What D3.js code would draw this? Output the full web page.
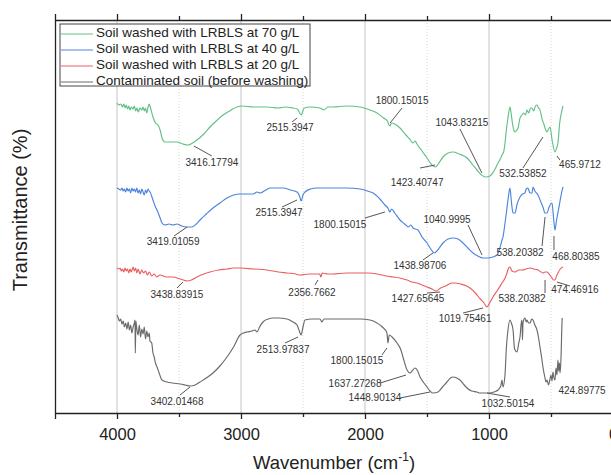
<!DOCTYPE html>
<html><head><meta charset="utf-8">
<script src="https://cdn.jsdelivr.net/npm/d3@7"></script>
<style>html,body{margin:0;padding:0;background:#fff;}svg{display:block;}</style>
</head><body><svg id="c" width="611" height="475"></svg>
<script>
// ---------- data (wavenumber cm-1, transmittance in arbitrary offset units) ----------
const seriesNames = ["Soil washed with LRBLS at 70 g/L","Soil washed with LRBLS at 40 g/L","Soil washed with LRBLS at 20 g/L","Contaminated soil (before washing)"];
const majorTicks = [4000,3000,2000,1000,0];
const minorTicks = [3500,2500,1500,500];

const spectrum70 = [[4000,310],[3985,308],[3970,309],[3955,306],[3945,309],[3935,305],[3925,308],[3915,304],[3905,307],[3895,303],[3885,306],[3870,304],[3860,307],[3850,302],[3840,305],[3828,301],[3815,305],[3800,303],[3790,306],[3780,302],[3770,305],[3760,300],[3750,306],[3740,309],[3734,307],
[3710,296],[3690,290],[3669,288],[3650,282],[3637,275],[3613,271],[3560,271],[3516,271],[3470,269],[3427,268],[3390,270],[3355,273],[3300,279],[3250,286],[3200,292],[3145,298],[3080,303],[3032,306],[2992,307],[2900,306],[2790,306],[2700,305],[2640,306],[2581,305],[2545,304],[2515,298],[2490,305],[2440,306],[2363,305],[2330,303],[2300,306],[2258,306],[2150,307],[2040,306],[1960,303],[1903,300],[1850,295],[1820,292],[1800,287],[1785,290],[1760,289],[1718,285],[1670,278],[1640,274],[1613,270],[1595,272],[1581,269],[1540,262],[1500,255],[1460,248],[1430,246],[1410,249],[1371,256],[1330,260],[1290,261],[1240,259],[1177,255],[1130,248],[1097,243],[1060,238],[1030,236],[992,237],[960,242],[927,250],[905,255],[895,258],[880,262],[871,270],[860,283],[845,297],[831,306],[822,300],[810,289],[800,283],[790,281],[775,283],[766,285],[750,295],[734,298],[720,300],[705,298],[694,303],[680,300],[665,305],[653,305],[640,302],[625,307],[613,308],[600,305],[589,303],[570,293],[555,288],[548,285],[532,281],[520,284],[508,286],[490,272],[468,261],[455,265],[444,270],[430,290],[411,303],[403,307]];

const spectrum40 = [[4000,225],[3985,224],[3970,223],[3960,225],[3950,222],[3940,224],[3930,221],[3920,225],[3910,222],[3900,224],[3890,220],[3880,225],[3870,222],[3860,224],[3850,221],[3840,225],[3830,220],[3820,223],[3810,219],[3800,224],[3790,221],[3780,218],[3770,223],[3760,220],[3750,224],[3740,222],[3734,221],
[3710,213],[3690,206],[3677,203],[3655,196],[3637,190],[3613,188],[3580,189],[3550,188],[3516,189],[3480,187],[3435,186],[3395,186],[3360,189],[3331,193],[3280,199],[3226,205],[3170,210],[3113,215],[3060,218],[3008,219],[2950,219],[2903,219],[2870,221],[2847,220],[2800,223],[2766,225],[2700,225],[2661,225],[2600,223],[2548,221],[2525,216],[2515,212],[2500,218],[2484,221],[2440,224],[2387,225],[2300,225],[2258,225],[2150,225],[2040,224],[1980,222],[1935,220],[1880,214],[1839,208],[1815,205],[1800,201],[1785,204],[1760,200],[1718,193],[1680,189],[1650,186],[1630,188],[1613,185],[1573,183],[1540,176],[1500,170],[1470,164],[1440,160],[1420,162],[1371,170],[1330,174],[1290,175],[1250,174],[1210,170],[1170,165],[1129,160],[1090,157],[1048,155],[1008,155],[970,156],[935,158],[910,166],[895,173],[887,176],[875,186],[860,200],[845,215],[831,225],[820,212],[806,200],[790,200],[775,208],[750,216],[730,219],[710,220],[700,224],[686,225],[670,220],[653,220],[645,226],[630,222],[605,218],[585,212],[565,206],[548,200],[532,200],[515,206],[492,210],[480,196],[468,183],[455,193],[440,203],[427,212],[415,220],[403,226]];

const spectrum20 = [[4000,145],[3985,144],[3975,145],[3965,142],[3955,144],[3945,141],[3935,145],[3925,142],[3915,144],[3905,140],[3895,144],[3885,141],[3870,146],[3860,142],[3850,145],[3840,140],[3830,144],[3815,139],[3800,143],[3785,140],[3770,142],[3755,138],[3740,141],[3720,137],[3700,139],[3680,136],[3653,138],[3600,136],[3548,136],[3490,134],[3435,132],[3400,133],[3355,136],[3300,139],[3250,141],[3180,143],[3113,144],[3060,145],[3008,145],[2900,144],[2790,143],[2700,141],[2629,140],[2560,139],[2524,138],[2450,139],[2387,139],[2365,139],[2356,136],[2345,140],[2300,139],[2258,139],[2150,140],[2040,140],[1984,140],[1900,139],[1830,137],[1774,136],[1720,135],[1661,133],[1620,131],[1581,130],[1540,128],[1500,126],[1460,124],[1427,122],[1390,125],[1350,127],[1300,130],[1274,130],[1230,129],[1180,127],[1153,125],[1110,120],[1070,114],[1040,110],[1016,106],[995,110],[968,116],[930,123],[895,130],[870,135],[855,140],[842,145],[831,146],[815,142],[790,141],[760,143],[734,143],[700,144],[669,145],[640,144],[605,143],[580,141],[565,140],[548,141],[532,141],[510,138],[492,135],[480,133],[468,133],[455,137],[444,140],[425,144],[403,146]];

const spectrum0 = [[4000,98],[3990,95],[3980,92],[3970,94],[3960,89],[3950,92],[3940,86],[3930,90],[3920,84],[3910,91],[3900,83],[3890,88],[3880,80],[3870,86],[3860,90],[3855,93],[3852,60],[3848,92],[3840,84],[3830,78],[3820,88],[3810,76],[3800,84],[3790,79],[3780,86],[3770,74],[3760,82],[3750,76],[3740,80],[3734,72],[3720,70],[3710,60],[3700,56],[3690,50],[3677,46],[3660,40],[3637,33],[3597,31],[3550,30],[3492,29],[3450,28],[3411,27],[3370,28],[3331,31],[3280,35],[3226,40],[3170,47],[3113,56],[3060,66],[3008,78],[2980,80],[2952,81],[2910,82],[2887,83],[2871,81],[2850,86],[2823,91],[2780,94],[2742,95],[2700,95],[2629,94],[2580,91],[2548,88],[2530,82],[2515,78],[2500,86],[2484,93],[2430,94],[2363,94],[2347,91],[2330,94],[2306,94],[2200,94],[2040,94],[1960,93],[1903,90],[1860,86],[1823,80],[1815,70],[1805,78],[1782,76],[1742,70],[1710,63],[1694,56],[1661,43],[1637,40],[1620,42],[1597,45],[1575,42],[1556,36],[1530,31],[1500,26],[1475,22],[1452,20],[1411,21],[1375,26],[1339,31],[1310,35],[1290,36],[1260,35],[1234,33],[1200,28],[1177,25],[1140,22],[1097,21],[1073,20],[1016,20],[992,20],[960,21],[927,23],[905,27],[895,33],[887,26],[871,38],[860,65],[847,83],[831,93],[820,90],[806,83],[795,65],[790,63],[774,61],[760,70],[750,76],[740,90],[734,93],[730,73],[726,90],[710,95],[700,91],[694,93],[680,90],[669,90],[655,94],[645,93],[630,88],[613,83],[600,75],[589,66],[575,55],[565,46],[550,36],[540,31],[532,33],[520,28],[508,34],[500,38],[492,32],[484,41],[478,36],[468,33],[460,45],[452,38],[444,53],[438,42],[432,50],[427,40],[422,48],[418,60],[414,80],[410,95]];

// peak labels: text, wavenumber and level of the point the leader touches
const peakLabels = ["3416.17794","2515.3947","1800.15015","1043.83215","1423.40747","532.53852","465.9712",
 "3419.01059","2515.3947","1800.15015","1040.9995","1438.98706","538.20382","468.80385",
 "3438.83915","2356.7662","1427.65645","1019.75461","538.20382","474.46916",
 "3402.01468","2513.97837","1800.15015","1637.27268","1448.90134","1032.50154","424.89775"];
const peakWn  = [3380,2548,1798,1057,1435,565,452, 3435,2548,1839,1056,1452,548,476, 3468,2379,1395,1048,548,452, 3411,2540,1823,1669,1476,1016,427];
const peakVal = [267,295,290,240,248,276,257, 186,213,201,158,160,196,177, 131,133,121,105,133,131, 26,76,65,38,21,20,28];

// ---------- layout (pixel offsets of leader end and label centre) ----------
const leadOff = [[18,10],[-5,4],[12,-15],[-22,-44],[-15,3],[-20,31],[3,4],
 [-13,9],[-15,7],[-20,6],[-14,-30],[-10,7],[-3,29],[0,14],
 [-6,6],[-3,5],[-13,1],[-20,5],[0,13],[13,4],
 [-10,8],[-13,6],[-5,7],[-26,8],[-30,6],[23,4],[0,0]];
const textOff = [[18,17],[-7,10],[12,-22],[-20,-50],[-18,18],[-20,37],[23,9],
 [-14,15],[-18,13],[-45,13],[-35,-35],[-13,13],[-25,36],[22,21],
 [-6,13],[-6,13],[-22,7],[-18,11],[-23,19],[18,8],
 [-13,15],[-15,13],[-30,13],[-51,9],[-55,6],[21,11],[22,6]];

const colors = ["#62c087","#4c84db","#ea5f60","#6a6a6a"];
const FONT = "'Liberation Sans', Arial, sans-serif";

const svg = d3.select("#c");
svg.append("rect").attr("width",611).attr("height",475).attr("fill","#fff");

const pLeft = 55, pTop = 20, pBottom = 413;
const x = d3.scaleLinear().domain([4500,-100]).range([pLeft, pLeft + 4600*0.124]);
const y = d3.scaleLinear().domain([0,393]).range([pBottom, pTop]);

// grid
svg.append("g").selectAll("line").data(majorTicks.filter(d=>d>0)).join("line")
  .attr("x1",d=>x(d)).attr("x2",d=>x(d)).attr("y1",pTop).attr("y2",pBottom)
  .attr("stroke","#cfcfcf").attr("stroke-width",1.2);
svg.append("g").selectAll("line").data(minorTicks).join("line")
  .attr("x1",d=>x(d)).attr("x2",d=>x(d)).attr("y1",pTop).attr("y2",pBottom)
  .attr("stroke","#d8d8d8").attr("stroke-width",1).attr("stroke-dasharray","1,2");

// axes
const xb = svg.append("g").attr("transform",`translate(0,${pBottom})`)
  .call(d3.axisBottom(x).tickValues(majorTicks).tickSize(6).tickPadding(9).tickFormat(d3.format("d")));
const xbm = svg.append("g").attr("transform",`translate(0,${pBottom})`)
  .call(d3.axisBottom(x).tickValues(minorTicks).tickSize(4).tickFormat(""));
const xt = svg.append("g").attr("transform",`translate(0,${pTop})`)
  .call(d3.axisTop(x).tickValues(majorTicks).tickSize(6).tickFormat(""));
const xtm = svg.append("g").attr("transform",`translate(0,${pTop})`)
  .call(d3.axisTop(x).tickValues(minorTicks).tickSize(4).tickFormat(""));
const yl = svg.append("g").attr("transform",`translate(${pLeft},0)`)
  .call(d3.axisLeft(y).tickValues([]).tickSize(0));
[xb,xbm,xt,xtm,yl].forEach(g=>{
  g.select(".domain").attr("stroke","#222").attr("stroke-width",1.3);
  g.selectAll(".tick line").attr("stroke","#222").attr("stroke-width",1.3);
});
xbm.select(".domain").remove(); xtm.select(".domain").remove();
xb.selectAll(".tick text").attr("font-family",FONT).attr("font-size",16.5).attr("fill","#222");

// spectra
const line = d3.line().x(d=>x(d[0])).y(d=>y(d[1])).curve(d3.curveMonotoneX);
const spectra = [spectrum70, spectrum40, spectrum20, spectrum0];
svg.append("g").selectAll("path").data(spectra).join("path")
  .attr("d",line).attr("fill","none").attr("stroke",(d,i)=>colors[i]).attr("stroke-width",1.15)
  .attr("stroke-linejoin","round");

// peak annotations
const ag = svg.append("g");
peakLabels.forEach((t,i)=>{
  const px = x(peakWn[i]), py = y(peakVal[i]);
  if (leadOff[i][0] || leadOff[i][1]) {
    ag.append("line").attr("x1",px).attr("y1",py)
      .attr("x2",px+leadOff[i][0]).attr("y2",py+leadOff[i][1])
      .attr("stroke","#555").attr("stroke-width",1);
  }
  ag.append("text").attr("x",px+textOff[i][0]).attr("y",py+textOff[i][1])
    .attr("text-anchor","middle").attr("dominant-baseline","middle")
    .attr("font-family",FONT).attr("font-size",10).attr("fill","#333").text(t);
});

// legend
const lg = svg.append("g");
lg.append("rect").attr("x",60).attr("y",24).attr("width",250).attr("height",62)
  .attr("fill","#fff").attr("stroke","#444").attr("stroke-width",1);
seriesNames.forEach((n,i)=>{
  const yy = 33 + i*16;
  lg.append("line").attr("x1",61).attr("x2",93).attr("y1",yy+1).attr("y2",yy+1)
    .attr("stroke",colors[i]).attr("stroke-width",1);
  lg.append("text").attr("x",96).attr("y",yy).attr("dominant-baseline","middle")
    .attr("font-family",FONT).attr("font-size",13.5).attr("fill","#222").text(n);
});

// axis titles
const xtitle = svg.append("text").attr("x",334).attr("y",469).attr("text-anchor","middle")
  .attr("font-family",FONT).attr("font-size",18.5).attr("fill","#222");
xtitle.append("tspan").text("Wavenumber (cm");
xtitle.append("tspan").attr("font-size",12).attr("dy",-8).text("-1");
xtitle.append("tspan").attr("dy",8).text(")");
svg.append("text").attr("transform","translate(27,210) rotate(-90)").attr("text-anchor","middle")
  .attr("font-family",FONT).attr("font-size",20).attr("fill","#222").text("Transmittance (%)");
</script></body></html>
